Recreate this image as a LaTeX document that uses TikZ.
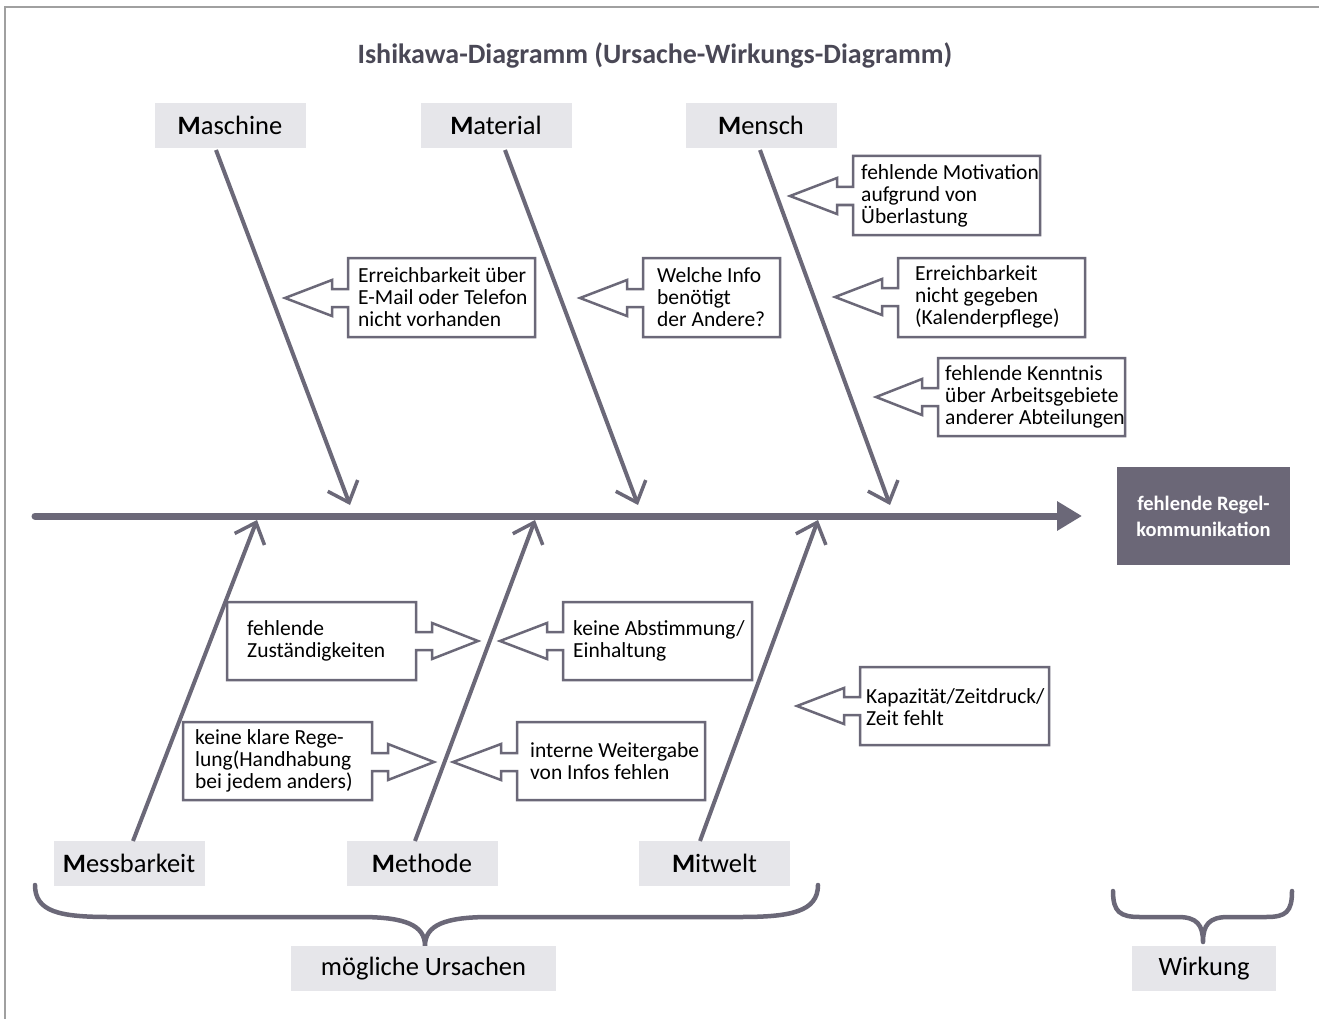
\documentclass[tikz,border=0pt]{standalone}
\usepackage{fontspec}
\setmainfont{Carlito}
\usetikzlibrary{arrows.meta}
\definecolor{ln}{HTML}{6B6878}
\definecolor{labfill}{HTML}{E6E6EA}
\definecolor{efffill}{HTML}{6B6777}
\definecolor{titlec}{HTML}{4A4856}
\definecolor{framec}{HTML}{A0A0A0}
\tikzset{
  lab/.style={fill=labfill, minimum width=151pt, minimum height=45pt, inner sep=0pt, font=\fontsize{26.5}{30}\selectfont, text=black},
  effect/.style={fill=efffill, minimum width=173pt, minimum height=98pt, inner sep=0pt, align=center, text=white, font=\fontsize{20.5}{26}\selectfont\bfseries},
  ctext/.style={anchor=west, align=left, inner sep=0pt, font=\fontsize{21.5}{22}\selectfont, text=black},
  callout/.style={draw=ln, line width=2.5pt, fill=white, line join=miter},
  bone/.style={draw=ln, line width=4pt, -{Straight Barb[length=18pt,width=32pt,line width=3.5pt]}},
  spine/.style={draw=ln, line width=7pt, line cap=round, -{Triangle[length=25pt,width=28pt]}},
  brace/.style={draw=ln, line width=4.5pt, line cap=round, line join=round},
  framel/.style={draw=framec, line width=1.5pt}
}
\newcommand\callL[6]{% lx, ty, rx, by, tipx, cy
  \draw[callout] (#1,#2) -- (#3,#2) -- (#3,#4) -- (#1,#4) -- (#1,#6+9) -- (#1-16,#6+9) -- (#1-16,#6+18) -- (#5,#6) -- (#1-16,#6-18) -- (#1-16,#6-9) -- (#1,#6-9) -- cycle;}
\newcommand\callR[6]{% lx, ty, rx, by, tipx, cy
  \draw[callout] (#3,#2) -- (#1,#2) -- (#1,#4) -- (#3,#4) -- (#3,#6+9) -- (#3+16,#6+9) -- (#3+16,#6+18) -- (#5,#6) -- (#3+16,#6-18) -- (#3+16,#6-9) -- (#3,#6-9) -- cycle;}
\begin{document}
\begin{tikzpicture}[x=1pt,y=-1pt]
\useasboundingbox (0,0) rectangle (1319,1019);
\fill[white] (0,0) rectangle (1319,1019);
\draw[framel] (5,1019) -- (5,7) -- (1319,7);

% title
\node[font=\fontsize{28}{32}\selectfont\bfseries, text=titlec, inner sep=0pt] (title) at (655,55) {Ishikawa-Diagramm (Ursache-Wirkungs-Diagramm)};

% effect
\node[effect] (eff) at (1203.5,516) {fehlende Regel-\\kommunikation};

% spine
\coordinate (sp0) at (35,516);
\coordinate (sp1) at (1082,516);
\draw[spine] (sp0) -- (sp1);

% category labels
\node[lab] (maschine) at (230,125.5) {\textbf{M}aschine};
\node[lab] (material) at (496,125.5) {\textbf{M}aterial};
\node[lab] (mensch) at (761,125.5) {\textbf{M}ensch};
\node[lab] (messbarkeit) at (129,863.5) {\textbf{M}essbarkeit};
\node[lab] (methode) at (422,863.5) {\textbf{M}ethode};
\node[lab] (mitwelt) at (714.5,863.5) {\textbf{M}itwelt};

% bones
\coordinate (b1s) at (216,150); \coordinate (b1e) at (350,505);
\coordinate (b2s) at (505,150); \coordinate (b2e) at (638,505);
\coordinate (b3s) at (760,150); \coordinate (b3e) at (890,505);
\coordinate (b4s) at (133,841); \coordinate (b4e) at (257,520);
\coordinate (b5s) at (415,841); \coordinate (b5e) at (535,520);
\coordinate (b6s) at (700,841); \coordinate (b6e) at (818,520);
\draw[bone] (b1s) -- (b1e);
\draw[bone] (b2s) -- (b2e);
\draw[bone] (b3s) -- (b3e);
\draw[bone] (b4s) -- (b4e);
\draw[bone] (b5s) -- (b5e);
\draw[bone] (b6s) -- (b6e);

% callouts (left pointing)
\callL{348}{258}{535}{337}{285}{298}
\node[ctext] (c1) at (358,297.5) {Erreichbarkeit über\\E-Mail oder Telefon\\nicht vorhanden};
\callL{643}{258}{780}{337}{580}{298}
\node[ctext] (c2) at (657,297.5) {Welche Info\\benötigt\\der Andere?};
\callL{853}{156}{1040}{235}{790}{196}
\node[ctext] (c3) at (861,196) {fehlende Motivation\\aufgrund von\\Überlastung};
\callL{898}{258}{1085}{337}{835}{297}
\node[ctext] (c4) at (915,297) {Erreichbarkeit\\nicht gegeben\\(Kalenderpflege)};
\callL{938}{358}{1125}{436}{876}{397}
\node[ctext] (c5) at (945,397) {fehlende Kenntnis\\über Arbeitsgebiete\\anderer Abteilungen};
\callL{860}{667}{1049}{745}{797}{706}
\node[ctext] (c6) at (866,707) {Kapazität/Zeitdruck/\\Zeit fehlt};
\callL{563}{602}{752}{680}{500}{641}
\node[ctext] (c7) at (573,641) {keine Abstimmung/\\Einhaltung};
\callL{517}{722}{705}{800}{453}{762}
\node[ctext] (c8) at (530,761) {interne Weitergabe\\von Infos fehlen};

% callouts (right pointing)
\callR{227}{602}{416}{680}{478}{641}
\node[ctext] (c9) at (247,641) {fehlende\\Zuständigkeiten};
\callR{183}{722}{372}{800}{434}{762}
\node[ctext] (c10) at (195,761) {keine klare Rege-\\lung(Handhabung\\bei jedem anders)};

% braces
\draw[brace] (35,885) .. controls (35,912) and (60,917) .. (110,917) -- (360,917) .. controls (405,917) and (425,925) .. (425,946) .. controls (425,925) and (445,917) .. (490,917) -- (740,917) .. controls (790,917) and (818,912) .. (818,885);
\draw[brace] (1113,891) .. controls (1113,912) and (1120,917) .. (1140,917) -- (1178,917) .. controls (1197,917) and (1203,925) .. (1203,942) .. controls (1203,925) and (1209,917) .. (1228,917) -- (1266,917) .. controls (1286,917) and (1292,912) .. (1292,891);

% bottom labels
\node[lab, minimum width=265pt] (ursachen) at (423.5,968.5) {mögliche Ursachen};
\node[lab, minimum width=144pt] (wirkung) at (1204,968.5) {Wirkung};
\end{tikzpicture}
\end{document}
